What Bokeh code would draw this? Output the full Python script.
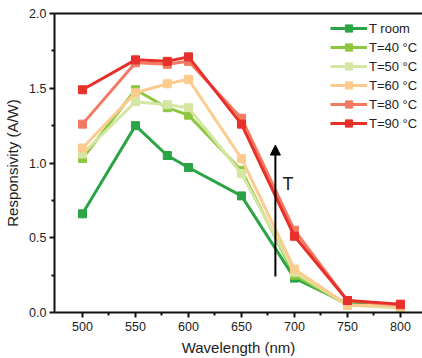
from bokeh.plotting import figure
from bokeh.models import (Range1d, LinearAxis, FixedTicker, Legend, LegendItem,
                          Arrow, NormalHead, Label, PrintfTickFormatter)
from bokeh.embed import file_html
from bokeh.resources import INLINE

wavelength = [500, 550, 580, 600, 650, 700, 750, 800]
t_room = [0.66, 1.25, 1.05, 0.97, 0.78, 0.23, 0.06, 0.04]
t_40 = [1.03, 1.49, 1.37, 1.32, 0.95, 0.25, 0.05, 0.04]
t_50 = [1.06, 1.41, 1.39, 1.37, 0.93, 0.27, 0.05, 0.03]
t_60 = [1.10, 1.47, 1.53, 1.56, 1.03, 0.29, 0.05, 0.04]
t_80 = [1.26, 1.67, 1.66, 1.68, 1.30, 0.55, 0.08, 0.05]
t_90 = [1.49, 1.69, 1.68, 1.71, 1.26, 0.51, 0.08, 0.056]
series_labels = ["T room", "T=40 \u00b0C", "T=50 \u00b0C", "T=60 \u00b0C", "T=80 \u00b0C", "T=90 \u00b0C"]
series_colors = ["#2aa444", "#8dc63f", "#d5e6a2", "#fdcb8e", "#f27a62", "#e8302a"]
x_ticks = [500, 550, 600, 650, 700, 750, 800]
y_ticks = [0.0, 0.5, 1.0, 1.5, 2.0]
arrow_x = [682, 682]
arrow_y = [0.24, 1.12]
t_label_pos = [694, 0.86]

FONT = "Liberation Sans"

p = figure(width=422, height=358, output_backend="svg", toolbar_location=None,
           x_range=Range1d(473.6, 820.8), y_range=Range1d(0, 2.0),
           min_border_left=54, min_border_right=0, min_border_top=13,
           min_border_bottom=46)
p.grid.visible = False
p.outline_line_color = None
p.background_fill_color = "white"
p.border_fill_color = "white"

for ax in (p.xaxis[0], p.yaxis[0]):
    ax.axis_line_width = 2
    ax.axis_line_color = "#111111"
    ax.major_tick_line_width = 2
    ax.minor_tick_line_width = 2
    ax.major_tick_line_color = "#111111"
    ax.minor_tick_line_color = "#111111"
    ax.major_tick_in = 0
    ax.major_tick_out = 5
    ax.minor_tick_in = 0
    ax.minor_tick_out = 3
    ax.major_label_text_font = FONT
    ax.major_label_text_font_size = "12.5px"
    ax.major_label_text_color = "#222222"
    ax.axis_label_text_font = FONT
    ax.axis_label_text_font_size = "15px"
    ax.axis_label_text_font_style = "normal"
    ax.axis_label_text_color = "#222222"

p.xaxis[0].ticker = FixedTicker(ticks=x_ticks, minor_ticks=[525, 575, 625, 675, 725, 775])
p.yaxis[0].ticker = FixedTicker(ticks=y_ticks, minor_ticks=[0.25, 0.75, 1.25, 1.75])
p.yaxis[0].formatter = PrintfTickFormatter(format="%.1f")
p.xaxis[0].axis_label = "Wavelength (nm)"
p.yaxis[0].axis_label = "Responsivity (A/W)"
p.xaxis[0].major_label_standoff = 4
p.yaxis[0].major_label_standoff = 3
p.xaxis[0].axis_label_standoff = 5
p.yaxis[0].axis_label_standoff = 5

top = LinearAxis(ticker=FixedTicker(ticks=[]), axis_line_width=2, axis_line_color="#111111",
                 major_tick_line_color=None, minor_tick_line_color=None,
                 major_label_text_font_size="0px")
p.add_layout(top, "above")

items = []
all_series = [t_room, t_40, t_50, t_60, t_80, t_90]
for vals, lab, col in zip(all_series, series_labels, series_colors):
    r1 = p.line(wavelength, vals, line_color=col, line_width=3)
    r2 = p.scatter(wavelength, vals, marker="square", size=8, fill_color=col, line_color=col)
    items.append(LegendItem(label=lab, renderers=[r1, r2]))

legend = Legend(items=items, location=(276, 180), margin=0, padding=0,
                border_line_color=None, background_fill_alpha=0,
                glyph_width=37, glyph_height=18, label_height=18, spacing=1,
                label_standoff=2, label_text_font=FONT, label_text_font_size="13px",
                label_text_color="#222222")
p.add_layout(legend)

p.add_layout(Arrow(end=NormalHead(size=10, fill_color="black", line_color="black"),
                   x_start=arrow_x[0], y_start=arrow_y[0], x_end=arrow_x[1], y_end=arrow_y[1],
                   line_color="black", line_width=2))
p.add_layout(Label(x=t_label_pos[0], y=t_label_pos[1], text="T", text_font=FONT,
                   text_font_size="18px", text_align="center", text_baseline="middle",
                   text_color="#222222"))

open("out.html", "w").write(file_html(p, INLINE))
